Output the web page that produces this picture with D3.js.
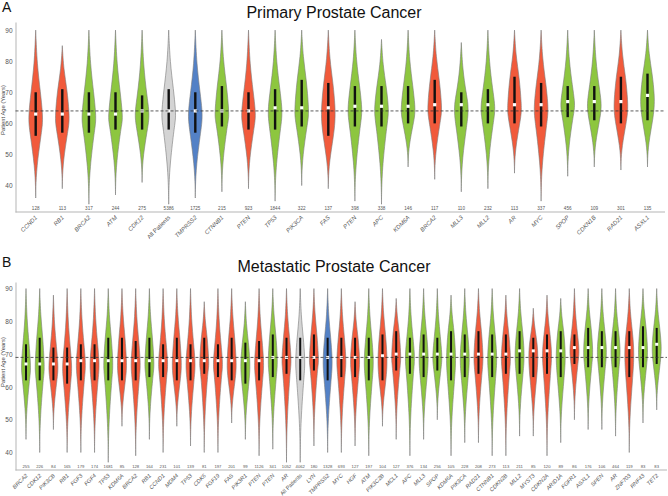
<!DOCTYPE html>
<html>
<head>
<meta charset="utf-8">
<script src="https://cdn.jsdelivr.net/npm/d3@7"></script>
<style>
  html, body { margin: 0; padding: 0; background: #fff; }
  svg { display: block; font-family: "Liberation Sans", Arial, sans-serif; }
</style>
</head>
<body>
<svg id="chart" width="668" height="496"></svg>
<script>
// ---------- Panel A: Primary Prostate Cancer ----------
const primaryGenes = ["CCND1","RB1","BRCA2","ATM","CDK12","All Patients","TMPRSS2","CTNNB1","PTEN","TP53","PIK3CA","FAS","PTEN","APC","KDM6A","BRCA2","MLL3","MLL2","AR","MYC","SPOP","CDKN1B","RAD21","ASXL1"];
const primaryGroup = ["r","r","g","g","g","a","b","g","r","g","g","r","g","g","g","r","g","g","r","r","g","g","r","g"];
const primaryN     = [128,113,317,244,275,5386,1725,215,923,1844,322,137,398,338,146,117,110,232,113,337,456,109,301,135];
const primaryMin   = [36,39,34,37,41,34,36,38,39,35,40,39,35,34,46,42,38,39,44,35,43,46,45,46];
const primaryQ1    = [56,57,57,58,58,58,57,59,58,58,59,56,59,59,60,60,59,60,60,59,62,61,60,61];
const primaryMed   = [63,63,63,63,64,64,64,64,64,65,65,65,65.5,65.5,65.5,66,66,66,66,66,67,67,67,69];
const primaryQ3    = [70,71,70,70,69,71,70,72,70,71,74,73,72,72,72,74,70,71,75,73,72,72,75,76];
const primaryMax   = [90,85,90,90,90,90,90,90,90,90,90,90,90,87,90,90,86,90,90,90,90,90,90,90];
const primaryRef   = 64;

// ---------- Panel B: Metastatic Prostate Cancer ----------
const metaGenes = ["BRCA2","CDK12","PIK3CB","RB1","FGF3","FGF4","TP53","KDM6A","BRCA2","RB1","CCND1","MDM4","TP53","CDK6","FGF19","FAS","PIK3R1","PTEN","PTEN","AR","All Patients","LYN","TMPRSS2","MYC","HGF","ATM","PIK3C2B","MCL1","APC","MLL3","SPOP","KDM6A","PIK3CA","RAD21","CTNNB1","CDKN2B","MLL2","MYST3","CDKN2A","ARID1A","FGFR1","ASXL1","SPEN","AR","ZNF703","RNF43","TET2"];
const metaGroup = ["g","g","r","r","r","r","g","r","r","g","r","r","r","r","r","r","g","r","g","r","a","r","b","r","r","g","r","r","g","g","g","g","g","r","g","r","g","r","r","g","r","g","g","g","r","g","g"];
const metaN     = [255,226,84,165,179,174,1681,85,128,164,231,101,139,81,197,201,99,1126,341,1052,4062,180,1328,693,127,197,104,127,376,134,256,105,228,208,273,113,211,85,120,89,86,176,106,464,119,83,83];
const metaMin   = [44,40,47,40,40,40,37,48,39,44,40,48,42,40,40,49,44,39,41,37,37,42,40,40,42,39,48,44,39,44,50,39,43,43,39,39,45,45,39,43,50,47,47,45,40,49,53];
const metaQ1    = [62,62,62,61,62,62,62,62,62,63,63,62,62,64,63,62,61,62,63,64,62,65,62,63,63,62,62,65,64,63,65,62,63,64,63,64,64,63,64,63,67,66,66,66,63,66,67];
const metaMed   = [67,67,67,67,68,68,68,68,68,68,68,68,68,68,68,68,68,68,69,69,69,69,69,69,69,69,69.5,70,70,70,70,70,70,70,70,70,71,71,71,71,72,72,72,72,72,72,73];
const metaQ3    = [73,75,72,72,73,73,75,75,74,75,73,75,73,75,73,75,73.5,74,76,75,75,76,75,75,75,75,76,77,75,76,75,77,76,77,76,76,77,75,76,77,76,78,77,77,77,78.5,78];
const metaMax   = [90,90,88,90,90,90,90,90,90,90,90,90,90,86,90,90,86,90,90,90,90,90,90,90,86,90,90,87,90,90,90,88,90,90,90,88,90,84,88,87,90,90,90,90,90,90,90];
const metaRef   = 69;

const yTicks = [40,50,60,70,80,90];

// ---------- Drawing ----------
const svg = d3.select("#chart");
const color = d3.scaleOrdinal().domain(["r","g","a","b"]).range(["#f15a3b","#8dc63f","#d4d4d4","#5381c6"]);

function buildRows(genes, group, n, mn, q1, med, q3, mx) {
  return genes.map((g, i) => ({ key: i, gene: g, group: group[i], n: n[i], min: mn[i], q1: q1[i], med: med[i], q3: q3[i], max: mx[i] }));
}

function violinKnots(d) {
  return [
    [d.max, 0],
    [d.q3 + 0.45 * (d.max - d.q3), 0.2],
    [d.q3, 0.68],
    [d.med, 1.0],
    [(d.med + d.q1) / 2, 0.97],
    [d.q1, 0.75],
    [d.q1 - 0.5 * (d.q1 - d.min), 0.14],
    [d.min + 0.15 * (d.q1 - d.min), 0.01],
    [d.min, 0]
  ];
}

function drawPanel(cfg) {
  const rows = buildRows(...cfg.data);
  const g = svg.append("g");

  const x = d3.scalePoint().domain(rows.map(r => r.key)).range([cfg.xFirst, cfg.xLast]);
  const y = d3.scaleLinear().domain(cfg.yDomain).range([cfg.yBottom, cfg.yTop]);

  g.append("text").attr("x", 2).attr("y", cfg.letterY).attr("font-size", 14).attr("fill", "#111").text(cfg.letter);
  g.append("text").attr("x", 334).attr("y", cfg.titleY).attr("text-anchor", "middle")
    .attr("font-size", 16).attr("fill", "#111").text(cfg.title);

  const ya = g.append("g").attr("transform", `translate(${cfg.xAxis},0)`)
    .call(d3.axisLeft(y).tickValues(yTicks).tickSize(0).tickSizeOuter(0).tickPadding(3));
  ya.select(".domain").attr("stroke", "#b5b5b5");
  ya.selectAll("text").attr("font-size", 6.5).attr("fill", "#555").attr("font-family", "Liberation Sans, Arial, sans-serif");

  g.append("line").attr("x1", cfg.xAxis).attr("x2", cfg.xEnd).attr("y1", cfg.yBottom).attr("y2", cfg.yBottom)
    .attr("stroke", "#b5b5b5").attr("stroke-width", 1);

  g.append("text").attr("transform", `translate(5,${cfg.yTitleY}) rotate(-90)`)
    .attr("text-anchor", "middle").attr("font-size", 5.8).attr("fill", "#444").text("Patient Age (Years)");

  const area = d3.area().curve(d3.curveBasis)
    .y(p => y(p[0])).x0(p => -cfg.hw * p[1]).x1(p => cfg.hw * p[1]);

  const vg = g.selectAll("g.v").data(rows).join("g").attr("class", "v")
    .attr("transform", d => `translate(${x(d.key)},0)`);

  vg.append("path").attr("d", d => area(violinKnots(d)))
    .attr("fill", d => color(d.group)).attr("stroke", "#7a7a7a").attr("stroke-width", 0.6);

  vg.append("rect").attr("x", -cfg.bw / 2).attr("width", cfg.bw)
    .attr("y", d => y(d.q3)).attr("height", d => y(d.q1) - y(d.q3)).attr("fill", "#111");

  g.append("line").attr("x1", cfg.xAxis).attr("x2", cfg.xEnd).attr("y1", y(cfg.ref)).attr("y2", y(cfg.ref))
    .attr("stroke", "#333").attr("stroke-width", 0.8).attr("stroke-dasharray", "3,2");

  vg.append("rect").attr("x", -cfg.ms / 2).attr("width", cfg.ms)
    .attr("y", d => y(d.med) - cfg.ms / 2).attr("height", cfg.ms).attr("fill", "#fff");

  vg.append("text").attr("y", cfg.countY).attr("text-anchor", "middle")
    .attr("font-size", cfg.countFs).attr("fill", "#555").text(d => d.n);

  vg.append("text")
    .attr("transform", `translate(2,${cfg.labelY}) rotate(-45)`)
    .attr("text-anchor", "end").attr("font-size", cfg.labelFs).attr("fill", "#555")
    .attr("font-style", d => d.group === "a" ? "normal" : "italic")
    .text(d => d.gene);
}

drawPanel({
  data: [primaryGenes, primaryGroup, primaryN, primaryMin, primaryQ1, primaryMed, primaryQ3, primaryMax],
  ref: primaryRef, letter: "A", letterY: 12, title: "Primary Prostate Cancer", titleY: 18,
  xFirst: 35.7, xLast: 647.5, xAxis: 15.5, xEnd: 665,
  yDomain: [31.5, 92.6], yBottom: 212, yTop: 22, yTitleY: 110,
  hw: 7, bw: 2.4, ms: 3.2, countY: 210, countFs: 4.6, labelY: 218, labelFs: 6
});

drawPanel({
  data: [metaGenes, metaGroup, metaN, metaMin, metaQ1, metaMed, metaQ3, metaMax],
  ref: metaRef, letter: "B", letterY: 267, title: "Metastatic Prostate Cancer", titleY: 272,
  xFirst: 26, xLast: 656.7, xAxis: 15.5, xEnd: 667,
  yDomain: [34.66, 92], yBottom: 470, yTop: 282, yTitleY: 362,
  hw: 4.6, bw: 2, ms: 3, countY: 468, countFs: 4.2, labelY: 476, labelFs: 5.6
});
</script>
</body>
</html>
